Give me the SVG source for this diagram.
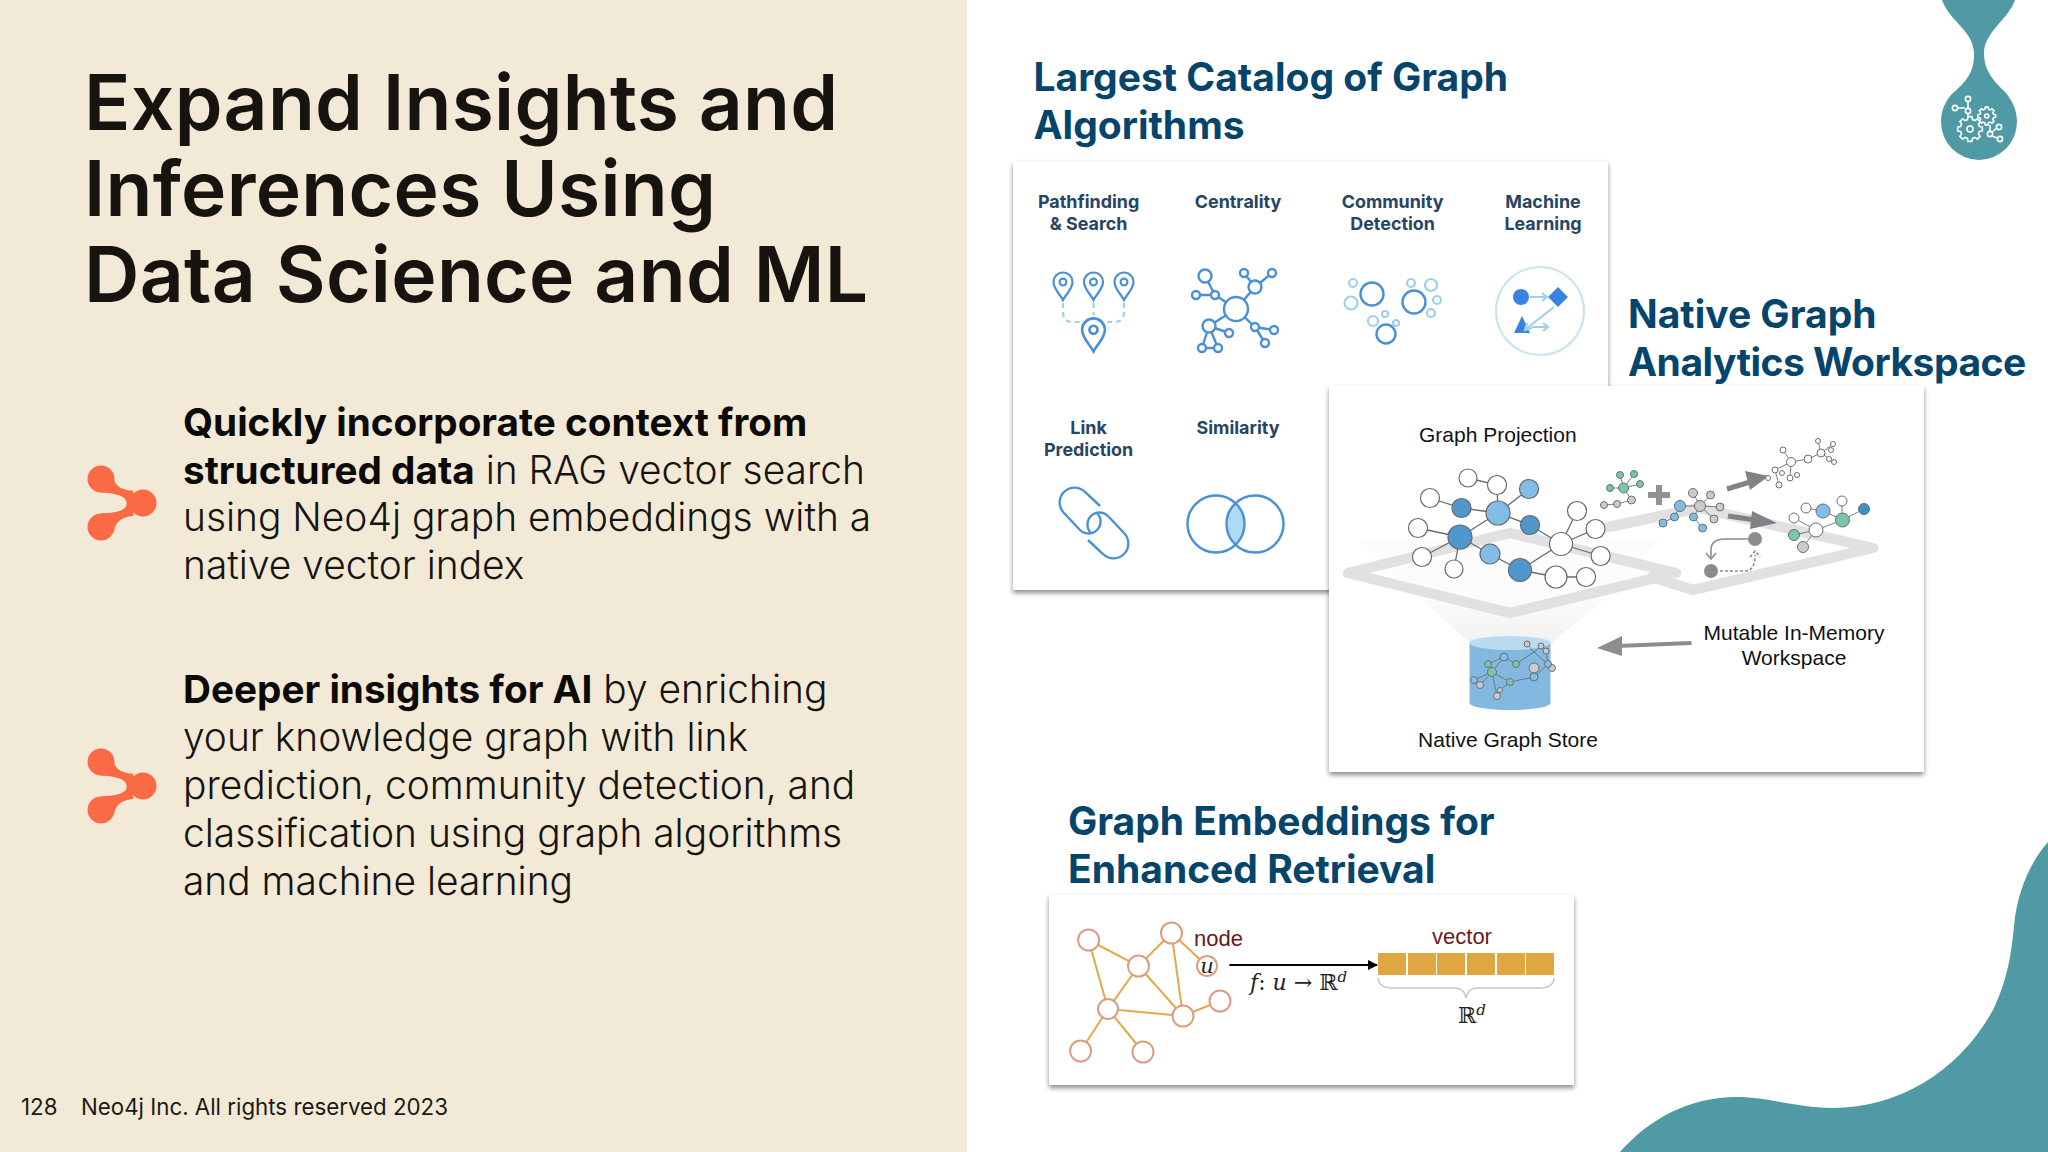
<svg xmlns="http://www.w3.org/2000/svg" xmlns:xlink="http://www.w3.org/1999/xlink" width="2048" height="1152" viewBox="0 0 2048 1152">
<style>
.ui{font-family:"Inter","Noto Sans","Liberation Sans",sans-serif}
.title{font-size:76.700px;font-weight:600;fill:#17130f;letter-spacing:.3px}
.body{font-size:38.900px;font-weight:300;fill:#17130f}
.body .b{font-weight:700;fill:#0c0a08;font-size:38.700px}
.head{font-size:39px;font-weight:700;fill:#05446b}
.cat{font-size:17.900px;font-weight:700;fill:#274563;text-anchor:middle}
.foot{font-size:22.300px;font-weight:400;fill:#1c1815}
.ar{font-family:"Liberation Sans",Arial,sans-serif;font-size:21px;fill:#111}
.math{font-family:"DejaVu Serif","Liberation Serif",serif;fill:#222}
.ic{fill:none;stroke:#4a90d6;stroke-width:2.4}
.icl{fill:none;stroke:#9fd0ea;stroke-width:2.2}
.ed{stroke:#666b70;stroke-width:1.300;fill:none}
.n{stroke:#666b70;stroke-width:1.200}
.w{fill:#fff}.d{fill:#4f97cd}.l{fill:#82bde6}.g{fill:#c9cbcd}.gr{fill:#7cc5a9}
.s{stroke:#6b7075;stroke-width:.9;fill:none}
.sn{stroke:#6b7075;stroke-width:1}
.o{stroke:#e2aa48;stroke-width:2;fill:none}
.on{fill:#fff;stroke:#dc9d86;stroke-width:2}
.icw{fill:none;stroke:#fff;stroke-width:1.600}
</style>
<defs>
<filter id="sh" x="-5%" y="-5%" width="110%" height="112%"><feDropShadow dx="0" dy="3" stdDeviation="2.500" flood-color="#000" flood-opacity=".45"/></filter>
<linearGradient id="fun" x1="0" y1="0" x2="0" y2="1"><stop offset="0" stop-color="#fcfcfc"/><stop offset="1" stop-color="#f1f1f2"/></linearGradient>
<path id="pin" d="M0 17C-3 11-9.500 6-9.500-1A9.500 9.500 0 1 1 9.500-1C9.500 6 3 11 0 17ZM3.400-1A3.400 3.400 0 1 0-3.400-1A3.400 3.400 0 1 0 3.400-1Z"/>
<path id="gear" vector-effect="non-scaling-stroke" d="M.753-.202L.988-.156.988.156.753.202.675.39.809.588.588.809.39.675.202.753.156.988-.156.988-.202.753-.39.675-.588.809-.809.588-.675.39-.753.202-.988.156-.988-.156-.753-.202-.675-.39-.809-.588-.588-.809-.39-.675-.202-.753-.156-.988.156-.988.202-.753.39-.675.588-.809.809-.588.675-.39Z"/>
<g id="bullet" fill="#f96a45">
<circle cx="101" cy="479" r="13.500"/><circle cx="101" cy="527" r="13.500"/><circle cx="143" cy="503" r="13.500"/>
<path d="M114 480Q117 490 133.300 490.700L133.300 516Q117 517 114 530L101 513.300C112 513 126.700 512 126.700 503.300C126.700 495 112 492.700 101 492.700Z"/>
</g>
<marker id="mk" viewBox="0 0 10 10" refX="9" refY="5" markerWidth="5" markerHeight="5" orient="auto"><path d="M0 0L10 5 0 10Z" fill="#000"/></marker>
</defs>

<rect width="2048" height="1152" fill="#fff"/>
<g id="left-panel">
<rect width="967" height="1152" fill="#f2ead6"/>
<text class="ui title"><tspan x="84" y="129.500">Expand Insights and</tspan><tspan x="84" y="215.500">Inferences Using</tspan><tspan x="84" y="301.500">Data Science and ML</tspan></text>
<use id="bullet1" xlink:href="#bullet"/>
<text class="ui body"><tspan x="183" y="436" class="b">Quickly incorporate context from</tspan><tspan x="183" y="483.500" class="b">structured data</tspan><tspan> in RAG vector search</tspan><tspan x="183" y="531">using Neo4j graph embeddings with a</tspan><tspan x="183" y="578.500">native vector index</tspan></text>
<use id="bullet2" xlink:href="#bullet" y="283"/>
<text class="ui body"><tspan x="183" y="703" class="b">Deeper insights for AI</tspan><tspan> by enriching</tspan><tspan x="183" y="751">your knowledge graph with link</tspan><tspan x="183" y="799">prediction, community detection, and</tspan><tspan x="183" y="847">classification using graph algorithms</tspan><tspan x="183" y="895">and machine learning</tspan></text>
<text class="ui foot"><tspan x="21" y="1115">128</tspan><tspan x="81" y="1115">Neo4j Inc. All rights reserved 2023</tspan></text>
</g>

<g id="blobs" fill="#4f9aa4">
<path d="M1942 0C1950 22 1973 30 1974 53C1975 75 1962 85 1951 95C1945 102 1941 111 1941 122A38 38 0 0 0 2017 122C2017 110 2012 100 2005 92C1995 82 1984 72 1984 53C1984 32 2008 20 2015 0Z"/>
<path d="M1620 1152C1650 1118 1690 1097 1737 1097C1770 1097 1795 1108 1833 1108C1900 1108 1960 1070 1993 1010C2010 975 2012 945 2015 917C2019 890 2030 862 2048 842V1152Z"/>
</g>
<g id="drop-icon" class="icw">
<use xlink:href="#gear" transform="translate(1970 129) scale(12.500)"/><circle cx="1970" cy="129" r="3"/>
<use xlink:href="#gear" transform="translate(1986.700 116) scale(9)"/><circle cx="1986.700" cy="116" r="2"/>
<path d="M1968 102V108M1958 108H1965M1968 114V118M1990 125V131M1992 132L1997 128M1992 136L1997 138"/>
<circle cx="1968" cy="99" r="2.600"/><circle cx="1955" cy="108" r="2.600"/><circle cx="1968" cy="111" r="2.600"/><circle cx="1990" cy="134" r="2.600"/><circle cx="1999" cy="127" r="2.600"/><circle cx="2000" cy="139" r="2.600"/>
</g>

<g id="headings" class="ui head">
<text><tspan x="1033.500" y="91">Largest Catalog of Graph</tspan><tspan x="1033.500" y="139">Algorithms</tspan></text>
<text><tspan x="1628" y="328">Native Graph</tspan><tspan x="1628" y="376" letter-spacing="-.5">Analytics Workspace</tspan></text>
<text><tspan x="1068" y="835">Graph Embeddings for</tspan><tspan x="1068" y="883">Enhanced Retrieval</tspan></text>
</g>

<g id="catalog-panel">
<rect x="1013" y="161" width="595" height="429" fill="#fff" filter="url(#sh)"/>
<g id="cat-pathfinding">
<text class="ui cat" x="1088.600"><tspan x="1088.600" y="208">Pathfinding</tspan><tspan x="1088.600" y="230">&amp; Search</tspan></text>
<g fill="none" stroke="#4a90d6" stroke-width="2.200">
<use xlink:href="#pin" x="1063" y="283"/><use xlink:href="#pin" x="1093.500" y="283"/><use xlink:href="#pin" x="1124" y="283"/>
<use xlink:href="#pin" transform="translate(1093.500 331) scale(1.200)"/></g>
<path class="icl" stroke-dasharray="5 4" d="M1063 303V312Q1063 322 1073 322H1082M1124 303V312Q1124 322 1114 322H1105M1093.500 303V315"/>
</g>
<g id="cat-centrality">
<text class="ui cat" x="1238" y="208">Centrality</text>
<path class="ic" d="M1255 287L1244 273M1255 287L1272 273M1236 309L1255 287M1236 309L1215 295H1196M1205 276L1215 295M1236 309L1209 326M1209 326L1229 333M1236 309L1255 327L1274 330M1255 327L1265 343M1209 326L1202 348H1218L1209 326"/>
<g class="ic" style="fill:#fff"><circle cx="1236" cy="309" r="12"/><circle cx="1205" cy="276" r="6.500"/><circle cx="1244" cy="273" r="4"/><circle cx="1272" cy="273" r="4"/><circle cx="1255" cy="287" r="6.500"/><circle cx="1215" cy="295" r="4"/><circle cx="1196" cy="295" r="4"/><circle cx="1209" cy="326" r="6.500"/><circle cx="1229" cy="333" r="4"/><circle cx="1255" cy="327" r="4"/><circle cx="1274" cy="330" r="4"/><circle cx="1265" cy="343" r="4"/><circle cx="1202" cy="348" r="4"/><circle cx="1218" cy="348" r="4"/></g>
</g>
<g id="cat-community">
<text class="ui cat"><tspan x="1392.600" y="208">Community</tspan><tspan x="1392.600" y="230">Detection</tspan></text>
<g class="ic"><circle cx="1372" cy="294" r="11.500"/><circle cx="1414" cy="302" r="11.500"/><circle cx="1386" cy="334" r="9.500"/></g>
<g class="icl"><circle cx="1353" cy="283" r="4"/><circle cx="1351" cy="303" r="6.500"/><circle cx="1411" cy="283" r="4"/><circle cx="1431" cy="285" r="6"/><circle cx="1437" cy="300" r="4"/><circle cx="1431" cy="313" r="4"/><circle cx="1373" cy="321" r="5"/><circle cx="1385" cy="314" r="3"/><circle cx="1396" cy="323" r="3"/></g>
</g>
<g id="cat-ml">
<text class="ui cat"><tspan x="1543" y="208">Machine</tspan><tspan x="1543" y="230">Learning</tspan></text>
<circle fill="none" stroke="#cde5f1" stroke-width="2.200" cx="1540" cy="311" r="44"/>
<circle cx="1521" cy="297" r="8" fill="#3b82e0"/><path d="M1558 287L1568 297 1558 307 1548 297Z" fill="#3b82e0"/><path d="M1522 316L1530 333H1514Z" fill="#3b82e0"/>
<path class="icl" d="M1530 297H1546M1542 293L1547 297 1542 301M1554 307L1526 329M1527 323L1525 330 1532 328M1532 327H1547M1543 323L1548 327 1543 331"/>
</g>
<g id="cat-link">
<text class="ui cat"><tspan x="1088.600" y="434">Link</tspan><tspan x="1088.600" y="456">Prediction</tspan></text>
<path class="ic" d="M1100 506L1085 492A14 14 0 0 0 1064 513L1080 530A12 12 0 0 0 1097 513M1088 540L1103 554A14 14 0 0 0 1124 533L1108 516A12 12 0 0 0 1091 533"/>
</g>
<g id="cat-similarity">
<text class="ui cat" x="1238" y="434">Similarity</text>
<path fill="#b0daf3" d="M1235.500 503A28.500 28.500 0 0 1 1235.500 545A28.500 28.500 0 0 1 1235.500 503Z"/>
<circle class="ic" cx="1216" cy="524" r="28.500"/><circle class="ic" cx="1255" cy="524" r="28.500"/>
</g>
</g>

<g id="workspace-panel">
<rect x="1329" y="386" width="595" height="386" fill="#fff" filter="url(#sh)"/>
<path d="M1419 597H1608L1551 643H1470Z" fill="url(#fun)"/>
<path d="M1360 540H1660L1608 597H1419Z" fill="#fcfcfc"/>
<path d="M1608 527L1699 508 1873 548 1693 590 1652 577" fill="none" stroke="#e1e1e3" stroke-width="10.500" stroke-linejoin="round" stroke-linecap="round"/>
<path d="M1348 573L1510 533 1676 573 1510 613Z" fill="none" stroke="#e1e1e3" stroke-width="10.500" stroke-linejoin="round"/>
<path d="M1469.500 643V703A40.500 7 0 0 0 1550.500 703V643Z" fill="#83b9e0"/>
<ellipse cx="1510" cy="643" rx="40.500" ry="7" fill="#bcdaef"/>
</g>
<g id="embedding-panel">
<rect x="1049" y="895" width="525" height="190" fill="#fff" filter="url(#sh)"/>
</g>

<g id="connectors">
<path class="ed" d="M1468 478L1497 485 1498 513M1529 489L1498 513M1430 498L1461.500 508 1498 513 1530 525 1561 544M1498 513L1460 537M1418 528L1460 537M1422 557L1460 537M1454 569L1460 537 1490 554 1520 570 1561 544M1561 544L1577 511M1561 544L1595.500 529M1561 544L1600.600 556M1520 570L1556 577 1586 577"/>
<path class="s" d="M1623.600 488L1620 475M1623.600 488L1634 474M1623.600 488L1640 484M1623.600 488H1610M1623.600 488L1631.500 500 1617 504 1604 505"/>
<path class="s" d="M1700 506L1693 493M1700 506L1710.500 495M1700 506L1720 507M1700 506L1714 519M1700 506H1680L1674.500 517 1663 523M1700 506L1693.500 517 1702.600 528"/>
<path class="s" d="M1791 462L1783 450M1791 462L1775 470M1791 462L1808 459 1821 453M1821 453L1818 441M1821 453L1833 444M1821 453L1834 462M1791 462L1790 478M1775 470L1779 485"/>
<path class="s" d="M1842 501V520M1864 509L1842.500 520M1823 511L1842.500 520M1806 508L1823 511M1842.500 520L1816 530 1794 518M1816 530L1794 535M1816 530L1803 547"/>
<path class="s" d="M1488 664L1504 657 1516 664 1534 652 1552 668M1504 657L1492 672 1474 680M1492 672L1480 685M1492 672L1510 682 1534 677 1548 664 1546 651M1534 652L1527 644M1534 652L1541 646M1492 672L1497 696M1510 682L1500 690"/>
<path d="M1727 489L1750 482" stroke="#7f8386" stroke-width="5" fill="none"/><path d="M1769 476L1745 471 1750 490Z" fill="#7f8386"/>
<path d="M1728 516L1755 520" stroke="#7f8386" stroke-width="5" fill="none"/><path d="M1777 523L1752 511 1750 529Z" fill="#7f8386"/>
<path d="M1691.500 643L1617 646" stroke="#8b8e91" stroke-width="4" fill="none"/><path d="M1597 648L1622 636 1622 656Z" fill="#8b8e91"/>
<path d="M1750 539H1725Q1711 539 1711 550V557M1706 553L1711 559 1716 553" fill="none" stroke="#8a8d90" stroke-width="1.600"/>
<path d="M1720 571H1745Q1755 571 1755 555M1750 557L1755 551 1760 557" fill="none" stroke="#8a8d90" stroke-width="1.600" stroke-dasharray="3 2"/>
<path d="M1659 485V505M1648 495H1670" stroke="#8f9396" stroke-width="6" fill="none"/>
<path class="o" d="M1088.600 940L1138.500 966 1108 1009 1088.600 940M1138.500 966L1171.500 933 1207 966M1171.500 933L1183 1016 1138.500 966M1108 1009L1183 1016 1220 1001M1108 1009L1080.600 1051M1108 1009L1143 1052"/>
<path d="M1229.400 965H1377" stroke="#000" stroke-width="2" fill="none" marker-end="url(#mk)"/>
<path d="M1378 978Q1379 988 1392 988H1455Q1464 988 1466 998Q1468 988 1477 988H1540Q1553 988 1554 978" fill="none" stroke="#c4c4c4" stroke-width="1.400"/>
</g>

<g id="graph-projection-nodes">
<g class="n"><circle class="w" cx="1468" cy="478" r="9"/><circle class="w" cx="1497" cy="485" r="9.500"/><circle class="l" cx="1529" cy="489" r="9.500"/><circle class="w" cx="1430" cy="498" r="9.500"/><circle class="d" cx="1461.500" cy="508" r="9.500"/><circle class="l" cx="1498" cy="513" r="12"/><circle class="d" cx="1530" cy="525" r="9.500"/><circle class="w" cx="1418" cy="528" r="9.500"/><circle class="d" cx="1460" cy="537" r="12"/><circle class="w" cx="1422" cy="557" r="9.500"/><circle class="w" cx="1454" cy="569" r="9"/><circle class="l" cx="1490" cy="554" r="10"/><circle class="d" cx="1520" cy="570" r="11.500"/><circle class="w" cx="1561" cy="544" r="11.500"/><circle class="w" cx="1577" cy="511" r="9.500"/><circle class="w" cx="1595.500" cy="529" r="9.500"/><circle class="w" cx="1600.600" cy="556" r="9.500"/><circle class="w" cx="1556" cy="577" r="11"/><circle class="w" cx="1586" cy="577" r="9.500"/></g>
</g>
<g id="small-graphs" class="sn">
<circle class="gr" cx="1623.600" cy="488" r="5"/><circle class="gr" cx="1620" cy="475" r="3.500"/><circle class="gr" cx="1634" cy="474" r="3.500"/><circle class="gr" cx="1640" cy="484" r="3.500"/><circle class="gr" cx="1610" cy="488" r="3.500"/><circle class="g" cx="1631.500" cy="500" r="4"/><circle class="g" cx="1617" cy="504" r="3.500"/><circle class="g" cx="1604" cy="505" r="3.500"/>
<circle class="g" cx="1700" cy="506" r="5.500"/><circle class="g" cx="1693" cy="493" r="4.500"/><circle class="g" cx="1710.500" cy="495" r="4"/><circle class="g" cx="1720" cy="507" r="4"/><circle class="g" cx="1714" cy="519" r="4"/><circle class="l" cx="1680" cy="506" r="5.500"/><circle class="l" cx="1674.500" cy="517" r="4"/><circle class="l" cx="1663" cy="523" r="4"/><circle class="l" cx="1693.500" cy="517" r="4"/><circle class="l" cx="1702.600" cy="528" r="4"/>
<g class="w"><circle cx="1791" cy="462" r="4.500"/><circle cx="1783" cy="450" r="3"/><circle cx="1775" cy="470" r="3"/><circle cx="1808" cy="459" r="4"/><circle cx="1821" cy="453" r="4"/><circle cx="1818" cy="441" r="2.500"/><circle cx="1833" cy="444" r="2.500"/><circle cx="1834" cy="462" r="2.500"/><circle cx="1790" cy="478" r="3"/><circle cx="1779" cy="485" r="3"/><circle cx="1768" cy="478" r="2.500"/><circle cx="1797" cy="475" r="2.500"/><circle cx="1782" cy="473" r="2.500"/><circle cx="1829" cy="459" r="2.500"/><circle cx="1831" cy="450" r="2.500"/></g>
<circle class="w" cx="1842" cy="501" r="5"/><circle fill="#3d8fc6" cx="1864" cy="509" r="5.500"/><circle class="gr" cx="1842.500" cy="520" r="7"/><circle class="l" cx="1823" cy="511" r="7"/><circle class="w" cx="1806" cy="508" r="5"/><circle class="w" cx="1794" cy="518" r="5"/><circle class="w" cx="1816" cy="530" r="7"/><circle class="gr" cx="1794" cy="535" r="5.500"/><circle class="g" cx="1803" cy="547" r="5.500"/>
</g>
<g id="memory-loop" fill="#8a8d90"><circle cx="1755" cy="539" r="7"/><circle cx="1711" cy="571" r="7"/></g>
<g id="native-store">
<g class="sn"><circle class="l" cx="1504" cy="657" r="4"/><circle class="g" cx="1534" cy="668" r="5"/><circle class="gr" cx="1488" cy="664" r="3.500"/><circle class="gr" cx="1516" cy="664" r="3.500"/><circle class="g" cx="1552" cy="668" r="3.500"/><circle class="gr" cx="1492" cy="672" r="4.500"/><circle class="l" cx="1474" cy="680" r="3.500"/><circle class="gr" cx="1510" cy="682" r="3.500"/><circle class="l" cx="1534" cy="677" r="4"/><circle class="l" cx="1548" cy="664" r="3.500"/><circle class="g" cx="1546" cy="651" r="3"/><circle class="g" cx="1527" cy="644" r="3"/><circle class="g" cx="1541" cy="646" r="3"/><circle class="g" cx="1480" cy="685" r="3.500"/><circle class="g" cx="1497" cy="696" r="3.500"/><circle class="g" cx="1500" cy="690" r="2.500"/></g>
</g>
<g id="workspace-labels" class="ar">
<text x="1419" y="442">Graph Projection</text>
<text text-anchor="middle"><tspan x="1794" y="640">Mutable In-Memory</tspan><tspan x="1794" y="665">Workspace</tspan></text>
<text x="1508" y="747" text-anchor="middle">Native Graph Store</text>
</g>

<g id="embedding-nodes">
<g class="on"><circle cx="1088.600" cy="940" r="10.500"/><circle cx="1171.500" cy="933" r="10.500"/><circle cx="1138.500" cy="966" r="10.500"/><circle cx="1207" cy="966" r="10"/><circle cx="1108" cy="1009" r="10"/><circle cx="1183" cy="1016" r="10.500"/><circle cx="1220" cy="1001" r="10.500"/><circle cx="1080.600" cy="1051" r="10.500"/><circle cx="1143" cy="1052" r="10.500"/></g>
<text class="math" x="1207" y="973" font-size="21" font-style="italic" text-anchor="middle">u</text>
<text x="1194" y="946" font-family="Liberation Sans,sans-serif" font-size="22" fill="#6b1a1a">node</text>
</g>
<g id="embedding-vector">
<text x="1462" y="944" font-family="Liberation Sans,sans-serif" font-size="22" fill="#6b1a1a" text-anchor="middle">vector</text>
<g fill="#e0a63f"><rect x="1378" y="953" width="28" height="22"/><rect x="1408" y="953" width="28" height="22"/><rect x="1437" y="953" width="28" height="22"/><rect x="1467" y="953" width="28" height="22"/><rect x="1497" y="953" width="28" height="22"/><rect x="1526" y="953" width="28" height="22"/></g>
<text class="math" x="1250" y="990" font-size="22"><tspan font-style="italic">f</tspan>: <tspan font-style="italic">u</tspan> → ℝ<tspan font-size="15" dy="-8" font-style="italic">d</tspan></text>
<text class="math" x="1458" y="1023" font-size="22">ℝ<tspan font-size="15" dy="-8" font-style="italic">d</tspan></text>
</g>
</svg>
